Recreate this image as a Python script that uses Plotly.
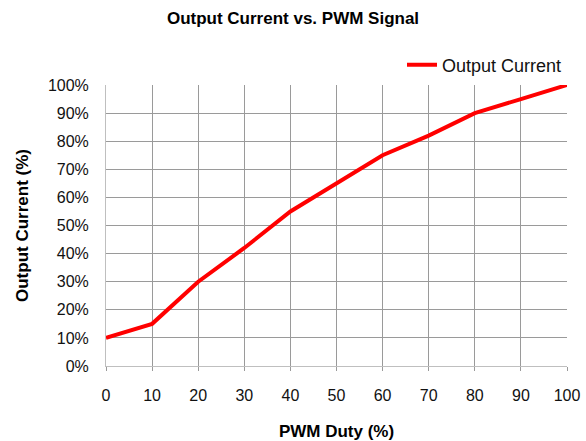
import plotly.graph_objects as go

pwm_duty = [0, 10, 20, 30, 40, 50, 60, 70, 80, 90, 100]
output_current = [10, 15, 30, 42, 55, 65, 75, 82, 90, 95, 100]
y_ticks = [0, 10, 20, 30, 40, 50, 60, 70, 80, 90, 100]
y_tick_labels = [f"{v}%" for v in y_ticks]

font = "Liberation Sans, Arial, sans-serif"
grid = "#9A9A9A"

fig = go.Figure()
fig.add_trace(go.Scatter(
    x=pwm_duty, y=output_current, mode="lines", name="Output Current",
    line=dict(color="#FF0000", width=4),
))

fig.update_layout(
    width=586, height=441,
    margin=dict(l=106, r=19, t=85, b=75, autoexpand=False),
    paper_bgcolor="white", plot_bgcolor="white",
    font=dict(family=font, size=16, color="#111"),
    title=dict(text="<b>Output Current vs. PWM Signal</b>", x=0.5, xanchor="center",
               y=0.959, yanchor="middle", font=dict(size=17, family=font, color="#000")),
    showlegend=True,
    legend=dict(x=1.0, xanchor="right", y=1.071, yanchor="middle", orientation="h",
                font=dict(size=18, family=font, color="#111"), bgcolor="rgba(0,0,0,0)",
                itemwidth=30),
)
fig.update_xaxes(
    range=[0, 100], tickvals=pwm_duty, ticks="outside", ticklen=4, tickcolor=grid,
    showgrid=True, gridcolor=grid, gridwidth=1,
    zeroline=False, showline=True, linecolor="#BFBFBF", tickfont=dict(size=16, family=font), automargin=False,
    title=dict(text="<b>PWM Duty (%)</b>", font=dict(size=17, family=font, color="#000"), standoff=22),
    ticklabelstandoff=11,
)
fig.update_yaxes(
    range=[0, 100], tickvals=y_ticks, ticktext=y_tick_labels, showgrid=True, gridcolor=grid,
    gridwidth=1, zeroline=False, showline=True, linecolor="#BFBFBF", tickfont=dict(size=16, family=font),
    automargin=False,
    title=dict(text="<b>Output Current (%)</b>", font=dict(size=17, family=font, color="#000"), standoff=14),
    ticklabelstandoff=13,
)
fig.write_html("out.html", config={"displayModeBar": False},
               post_script="document.body.style.margin='0';document.body.style.overflow='hidden';")
